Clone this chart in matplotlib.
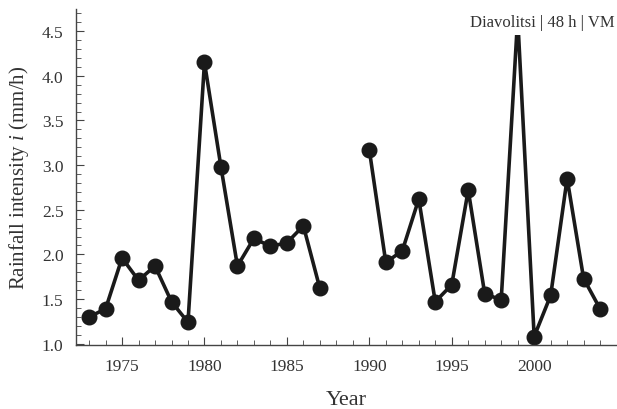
import numpy as np
import matplotlib.pyplot as plt
from matplotlib.ticker import MultipleLocator

plt.rcParams["font.family"] = ["Liberation Serif", "DejaVu Serif"]
plt.rcParams["mathtext.fontset"] = "custom"
plt.rcParams["mathtext.it"] = "Liberation Serif:italic"
plt.rcParams["mathtext.rm"] = "Liberation Serif"

# annual maxima, gap in 1988-1989
years = np.arange(1973, 2005)
intensity = [1.30, 1.39, 1.96, 1.71, 1.87, 1.47, 1.24, 4.15, 2.98, 1.87,
             2.18, 2.09, 2.13, 2.32, 1.62, np.nan, np.nan,
             3.17, 1.91, 2.04, 2.62, 1.47, 1.66, 2.72, 1.56, 1.49,
             4.65, 1.08, 1.54, 2.85, 1.73, 1.39]
label = "Diavolitsi | 48 h | VM"

txt = "#333333"
fig = plt.figure(figsize=(6.17, 4.10), dpi=100)
ax = fig.add_axes([0.123, 0.156, 0.875, 0.82])

ax.plot(years, intensity, color="#1a1a1a", lw=2.6, marker="o", ms=10.5)

ax.set_xlim(1972.2, 2004.95)
ax.set_ylim(0.985, 4.75)
ax.xaxis.set_major_locator(MultipleLocator(5))
ax.xaxis.set_minor_locator(MultipleLocator(1))
ax.yaxis.set_major_locator(MultipleLocator(0.5))
ax.yaxis.set_minor_locator(MultipleLocator(0.1))
ax.yaxis.set_major_formatter(plt.FuncFormatter(lambda v, p: f"{v:.1f}"))

for s in ["top", "right"]:
    ax.spines[s].set_visible(False)
for s in ["left", "bottom"]:
    ax.spines[s].set_color("#444444")
    ax.spines[s].set_linewidth(1.0)

ax.tick_params(which="both", direction="in", colors="#444444", labelcolor=txt, labelsize=12.5)
ax.tick_params(which="major", length=6, pad=9)
ax.tick_params(which="minor", length=3.5)

ax.set_xlabel("Year", fontsize=16, color=txt, labelpad=12)
ax.set_ylabel(r"Rainfall intensity $\mathit{i}$ (mm/h)", fontsize=15, color=txt, labelpad=8)

ax.text(0.998, 0.985, label, transform=ax.transAxes, ha="right", va="top",
        fontsize=12, color=txt, zorder=5,
        bbox=dict(facecolor="white", edgecolor="none", pad=4))

plt.savefig("out.png", dpi=100)
